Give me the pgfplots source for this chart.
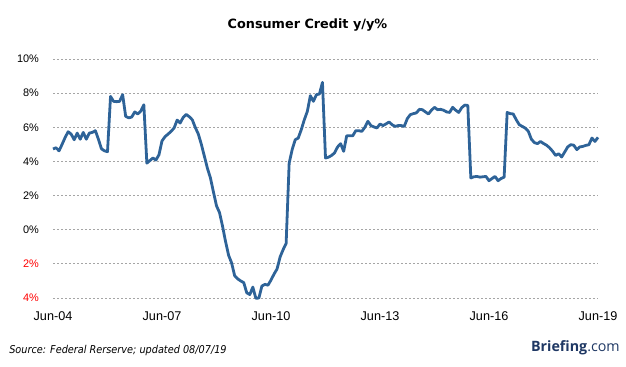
\documentclass[border=0pt]{standalone}
\usepackage{fontspec}
\setmainfont{Liberation Sans}
\newfontfamily\titlefont{DejaVu Sans}
\newfontfamily\notefont{DejaVu Sans Condensed}
\newfontfamily\brandfont{Open Sans}
\usepackage{pgfplots}
\pgfplotsset{compat=1.18}
\definecolor{lineblue}{RGB}{46,99,152}
\definecolor{gridgray}{RGB}{165,165,165}
\definecolor{brand}{RGB}{31,56,100}
\begin{document}
\begin{tikzpicture}
\path[use as bounding box] (0,0) rectangle (469.5pt,275.25pt);
\begin{axis}[
  at={(39.75pt,51.75pt)}, anchor=south west,
  scale only axis, width=408.75pt, height=179.25pt,
  xmin=0, xmax=180, ymin=-4, ymax=10,
  axis line style={draw=none},
  major tick length=0pt,
  xtick={0,36,72,108,144,180},
  xticklabels={Jun-04,Jun-07,Jun-10,Jun-13,Jun-16,Jun-19},
  ytick={-4,-2,0,2,4,6,8,10},
  yticklabels={\textcolor{red}{4\%},\textcolor{red}{2\%},0\%,2\%,4\%,6\%,8\%,10\%},
  ymajorgrids,
  grid style={gridgray, dash pattern=on 1.5pt off 1.5pt, line width=0.55pt},
  xticklabel style={font=\fontsize{9.5}{11}\selectfont, yshift=-6.5pt},
  yticklabel style={font=\fontsize{8.2}{10}\selectfont, anchor=east, xshift=-7pt},
  clip=false,
]
\addplot[lineblue, line width=2.1pt, line join=round] coordinates {
(0,4.73) (1,4.8) (2,4.62) (3,5.0) (4,5.4) (5,5.74) (6,5.6) (7,5.27) (8,5.66) (9,5.3)
(10,5.7) (11,5.3) (12,5.66) (13,5.7) (14,5.8) (15,5.3) (16,4.74) (17,4.62) (18,4.57) (19,7.81)
(20,7.52) (21,7.5) (22,7.52) (23,7.91) (24,6.64) (25,6.55) (26,6.6) (27,6.9) (28,6.78) (29,6.95)
(30,7.32) (31,3.9) (32,4.05) (33,4.2) (34,4.08) (35,4.39) (36,5.2) (37,5.45) (38,5.6) (39,5.76)
(40,5.96) (41,6.42) (42,6.25) (43,6.58) (44,6.75) (45,6.62) (46,6.44) (47,5.99) (48,5.6) (49,5.0)
(50,4.3) (51,3.6) (52,3.03) (53,2.2) (54,1.4) (55,1.0) (56,0.2) (57,-0.7) (58,-1.5) (59,-1.95)
(60,-2.7) (61,-2.88) (62,-3.0) (63,-3.1) (64,-3.7) (65,-3.8) (66,-3.36) (67,-4.02) (68,-4.0) (69,-3.3)
(70,-3.2) (71,-3.25) (72,-2.95) (73,-2.6) (74,-2.3) (75,-1.6) (76,-1.17) (77,-0.8) (78,3.9) (79,4.7)
(80,5.27) (81,5.37) (82,5.86) (83,6.44) (84,6.93) (85,7.85) (86,7.52) (87,7.91) (88,7.95) (89,8.63)
(90,4.2) (91,4.25) (92,4.35) (93,4.5) (94,4.85) (95,5.04) (96,4.59) (97,5.5) (98,5.5) (99,5.5)
(100,5.8) (101,5.8) (102,5.76) (103,6.0) (104,6.35) (105,6.1) (106,6.02) (107,5.96) (108,6.19) (109,6.1)
(110,6.2) (111,6.31) (112,6.15) (113,6.05) (114,6.1) (115,6.1) (116,6.05) (117,6.5) (118,6.74) (119,6.8)
(120,6.84) (121,7.05) (122,7.03) (123,6.9) (124,6.78) (125,7.0) (126,7.17) (127,7.03) (128,7.05) (129,7.0)
(130,6.9) (131,6.87) (132,7.17) (133,7.0) (134,6.87) (135,7.15) (136,7.3) (137,7.28) (138,3.03) (139,3.1)
(140,3.12) (141,3.08) (142,3.1) (143,3.12) (144,2.87) (145,3.0) (146,3.12) (147,2.87) (148,3.0) (149,3.08)
(150,6.87) (151,6.8) (152,6.78) (153,6.44) (154,6.15) (155,6.05) (156,5.95) (157,5.76) (158,5.3) (159,5.1)
(160,5.04) (161,5.17) (162,5.05) (163,4.95) (164,4.8) (165,4.6) (166,4.35) (167,4.45) (168,4.26) (169,4.55)
(170,4.85) (171,4.98) (172,4.95) (173,4.69) (174,4.85) (175,4.88) (176,4.94) (177,4.98) (178,5.37) (179,5.17)
(180,5.41)
};
\end{axis}
\node[font=\titlefont\bfseries\fontsize{9.6}{11}\selectfont] at (230.6pt,256.5pt) {Consumer Credit y/y\%};
\node[anchor=west, inner sep=0pt, font=\notefont\itshape\fontsize{8.1}{9}\selectfont] at (6.75pt,12.2pt) {Source: Federal Rerserve; updated 08/07/19};
\node[anchor=east, inner sep=0pt, text=brand, font=\brandfont\fontsize{10.7}{13}\selectfont] at (465pt,14.25pt) {\textbf{Briefing}.com};
\end{tikzpicture}
\end{document}
